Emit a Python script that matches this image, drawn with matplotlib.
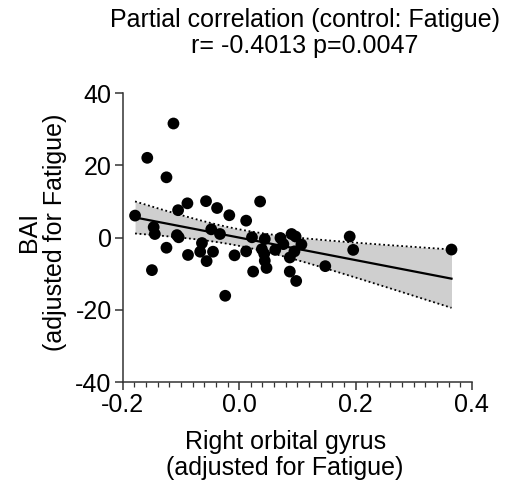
import numpy as np
import matplotlib
matplotlib.use("Agg")
from matplotlib import pyplot as plt
from matplotlib.ticker import MultipleLocator

plt.rcParams['font.family'] = ['Liberation Sans', 'DejaVu Sans']

# values
orbital_gyrus = [
    -0.179, -0.158, -0.113, -0.125, -0.147, -0.145, -0.150, -0.125, -0.105, -0.089,
    -0.107, -0.104, -0.088, -0.057, -0.038, -0.048, -0.064, -0.067, -0.045, -0.056,
    -0.033, -0.017, -0.024, -0.008, 0.012, 0.036, 0.022, 0.012, 0.044, 0.039,
    0.043, 0.044, 0.047, 0.024, 0.062, 0.071, 0.076, 0.090, 0.097, 0.107,
    0.095, 0.087, 0.087, 0.098, 0.190, 0.196, 0.148, 0.365,
]
bai = [
    6.1, 22.1, 31.6, 16.7, 2.9, 1.0, -9.0, -2.8, 7.6, 9.5,
    0.7, 0.1, -4.8, 10.1, 8.2, 2.3, -1.5, -3.9, -3.9, -6.5,
    1.0, 6.2, -16.1, -4.9, 4.7, 10.0, 0.1, -3.8, -0.4, -3.2,
    -4.5, -6.4, -8.4, -9.4, -3.4, -0.1, -1.8, 1.0, 0.3, -1.9,
    -3.8, -5.5, -9.4, -12.0, 0.3, -3.4, -7.9, -3.3,
]
title = "Partial correlation (control: Fatigue)\nr= -0.4013 p=0.0047"

x = np.array(orbital_gyrus)
y = np.array(bai)

# linear fit with 95% confidence band
n = len(x)
slope, intercept = np.polyfit(x, y, 1)
resid = y - (slope * x + intercept)
s = np.sqrt(np.sum(resid ** 2) / (n - 2))
t_crit = 2.013
xs = np.linspace(x.min(), x.max(), 200)
ys = slope * xs + intercept
half = t_crit * s * np.sqrt(1 / n + (xs - x.mean()) ** 2 / np.sum((x - x.mean()) ** 2))

fig = plt.figure(figsize=(5.14, 4.93), dpi=100)
ax = fig.add_axes([0.239, 0.225, 0.679, 0.586])

ax.fill_between(xs, ys - half, ys + half, color='#cfcfcf', linewidth=0, zorder=1)
ax.plot(xs, ys + half, color='black', linestyle=(0, (1, 1.5)), linewidth=1.3, zorder=2)
ax.plot(xs, ys - half, color='black', linestyle=(0, (1, 1.5)), linewidth=1.3, zorder=2)
ax.plot(xs, ys, color='black', linewidth=1.6, zorder=3)
ax.scatter(x, y, s=72, color='black', edgecolors='none', zorder=4)

ax.set_xlim(-0.2, 0.4)
ax.set_ylim(-40, 40)
ax.xaxis.set_major_locator(MultipleLocator(0.2))
ax.xaxis.set_minor_locator(MultipleLocator(0.02))
ax.yaxis.set_major_locator(MultipleLocator(20))
ax.set_xticklabels([f'{v:.1f}' for v in ax.get_xticks()])
ax.set_yticklabels([f'{v:.0f}' for v in ax.get_yticks()])

for side in ['top', 'right']:
    ax.spines[side].set_visible(False)
for side in ['left', 'bottom']:
    ax.spines[side].set_linewidth(1.1)
    ax.spines[side].set_color('#333333')

ax.tick_params(axis='both', which='major', labelsize=18, length=6, width=1.1, color='#333333', pad=2)
ax.tick_params(axis='x', which='minor', length=3.5, width=0.9, color='#333333')

ax.set_xlabel('Right orbital gyrus\n(adjusted for Fatigue)', fontsize=18, linespacing=1.1)
ax.xaxis.set_label_coords(0.465, -0.165)
ax.set_ylabel('BAI\n(adjusted for Fatigue)', fontsize=18, linespacing=1.1)
ax.yaxis.set_label_coords(-0.16, 0.52)
fig.text(305 / 514, 1 - 8 / 493, title, fontsize=18, ha='center', va='top', linespacing=1.1)

fig.savefig('out.png', dpi=100)
